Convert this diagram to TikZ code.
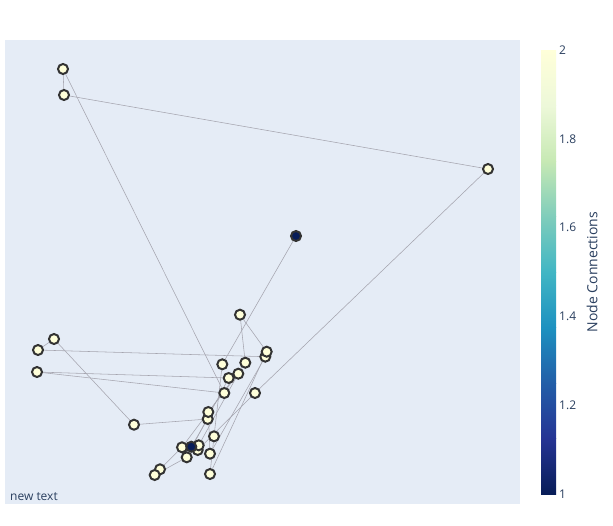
\documentclass[tikz,border=0pt]{standalone}
\usepackage{fontspec}
\setmainfont{Open Sans}
\pgfdeclarelayer{bg}
\pgfdeclarelayer{edges}
\pgfsetlayers{bg,edges,main}
\definecolor{ink}{RGB}{42,63,95}
\definecolor{plotbg}{RGB}{229,236,246}
\definecolor{eg}{RGB}{165,165,175}
\definecolor{mk}{RGB}{51,51,51}
\definecolor{c0}{RGB}{8,29,88}
\definecolor{c1}{RGB}{37,52,148}
\definecolor{c2}{RGB}{34,94,168}
\definecolor{c3}{RGB}{29,145,192}
\definecolor{c4}{RGB}{65,182,196}
\definecolor{c5}{RGB}{127,205,187}
\definecolor{c6}{RGB}{199,233,180}
\definecolor{c7}{RGB}{237,248,217}
\definecolor{c8}{RGB}{255,255,217}
\begin{document}
\begin{tikzpicture}[x=1pt,y=-1pt,
  nd/.style={circle,draw=mk,line width=2pt,fill=c8,minimum size=10pt,inner sep=0pt},
  dk/.style={nd,fill=c0},
  ed/.style={draw=eg,line width=0.55pt},
  lbl/.style={font=\fontsize{12}{14}\selectfont,text=ink,inner sep=0pt}]
\useasboundingbox (0,0) rectangle (613,525);
\begin{pgfonlayer}{bg}
\fill[white] (0,0) rectangle (613,525);
\fill[plotbg] (5,40) rectangle (520,504);
\end{pgfonlayer}
% nodes
\node[nd] (W1) at (63,69) {};
\node[nd] (W2) at (64,95) {};
\node[nd] (X) at (488,169) {};
\node[dk] (Y) at (296,236) {};
\node[nd] (Z1) at (54,339) {};
\node[nd] (Z2) at (38,350) {};
\node[nd] (Z3) at (37,372) {};
\node[nd] (A) at (240,314.7) {};
\node[nd] (C) at (265.3,356.7) {};
\node[nd] (B) at (266.7,351.7) {};
\node[nd] (D) at (222.3,364.3) {};
\node[nd] (E) at (245.3,362.7) {};
\node[nd] (F) at (238.3,373.7) {};
\node[nd] (G) at (228.7,378) {};
\node[nd] (H) at (224.3,393) {};
\node[nd] (I) at (255,393) {};
\node[nd] (K) at (207.7,419) {};
\node[nd] (J) at (208.3,412) {};
\node[nd] (L) at (134,424.7) {};
\node[nd] (M) at (214,436.3) {};
\node[nd] (Q) at (197.7,450) {};
\node[nd] (P) at (198.7,445.3) {};
\node[nd] (N) at (182,447.3) {};
\node[nd] (S) at (186.7,457.3) {};
\node[dk] (O) at (191.3,446.7) {};
\node[nd] (R) at (210,453.7) {};
\node[nd] (T) at (160,469.3) {};
\node[nd] (U) at (154.7,475) {};
\node[nd] (V) at (210,474) {};
% edges
\begin{pgfonlayer}{edges}
\draw[ed] (W1) -- (W2);
\draw[ed] (W1) -- (H);
\draw[ed] (W2) -- (X);
\draw[ed] (X) -- (I);
\draw[ed] (I) -- (Q);
\draw[ed] (Y) -- (D);
\draw[ed] (Z1) -- (Z2);
\draw[ed] (Z1) -- (L);
\draw[ed] (Z2) -- (C);
\draw[ed] (Z3) -- (G);
\draw[ed] (Z3) -- (H);
\draw[ed] (L) -- (K);
\draw[ed] (A) -- (E);
\draw[ed] (A) -- (B);
\draw[ed] (B) -- (V);
\draw[ed] (C) -- (R);
\draw[ed] (D) -- (M);
\draw[ed] (E) -- (N);
\draw[ed] (F) -- (P);
\draw[ed] (F) -- (J);
\draw[ed] (G) -- (S);
\draw[ed] (J) -- (R);
\draw[ed] (K) -- (O);
\draw[ed] (M) -- (V);
\draw[ed] (N) -- (T);
\draw[ed] (T) -- (U);
\draw[ed] (U) -- (S);
\draw[ed] (P) -- (Q);
\end{pgfonlayer}
% colorbar
\shade[bottom color=c0,top color=c1] (541,494) rectangle (556,438.5);
\shade[bottom color=c1,top color=c2] (541,438.5) rectangle (556,383);
\shade[bottom color=c2,top color=c3] (541,383) rectangle (556,327.5);
\shade[bottom color=c3,top color=c4] (541,327.5) rectangle (556,272);
\shade[bottom color=c4,top color=c5] (541,272) rectangle (556,216.5);
\shade[bottom color=c5,top color=c6] (541,216.5) rectangle (556,161);
\shade[bottom color=c6,top color=c7] (541,161) rectangle (556,105.5);
\shade[bottom color=c7,top color=c8] (541,105.5) rectangle (556,50);
\node[lbl,anchor=west] (t20) at (559,50) {2};
\node[lbl,anchor=west] (t18) at (559,138.8) {1.8};
\node[lbl,anchor=west] (t16) at (559,227.6) {1.6};
\node[lbl,anchor=west] (t14) at (559,316.4) {1.4};
\node[lbl,anchor=west] (t12) at (559,405.2) {1.2};
\node[lbl,anchor=west] (t10) at (559,494) {1};
\node[lbl,font=\fontsize{14}{16}\selectfont,rotate=90] (ttl) at (592,272) {Node Connections};
\node[lbl,anchor=base west] (nt) at (10,500) {new text};
\end{tikzpicture}
\end{document}
